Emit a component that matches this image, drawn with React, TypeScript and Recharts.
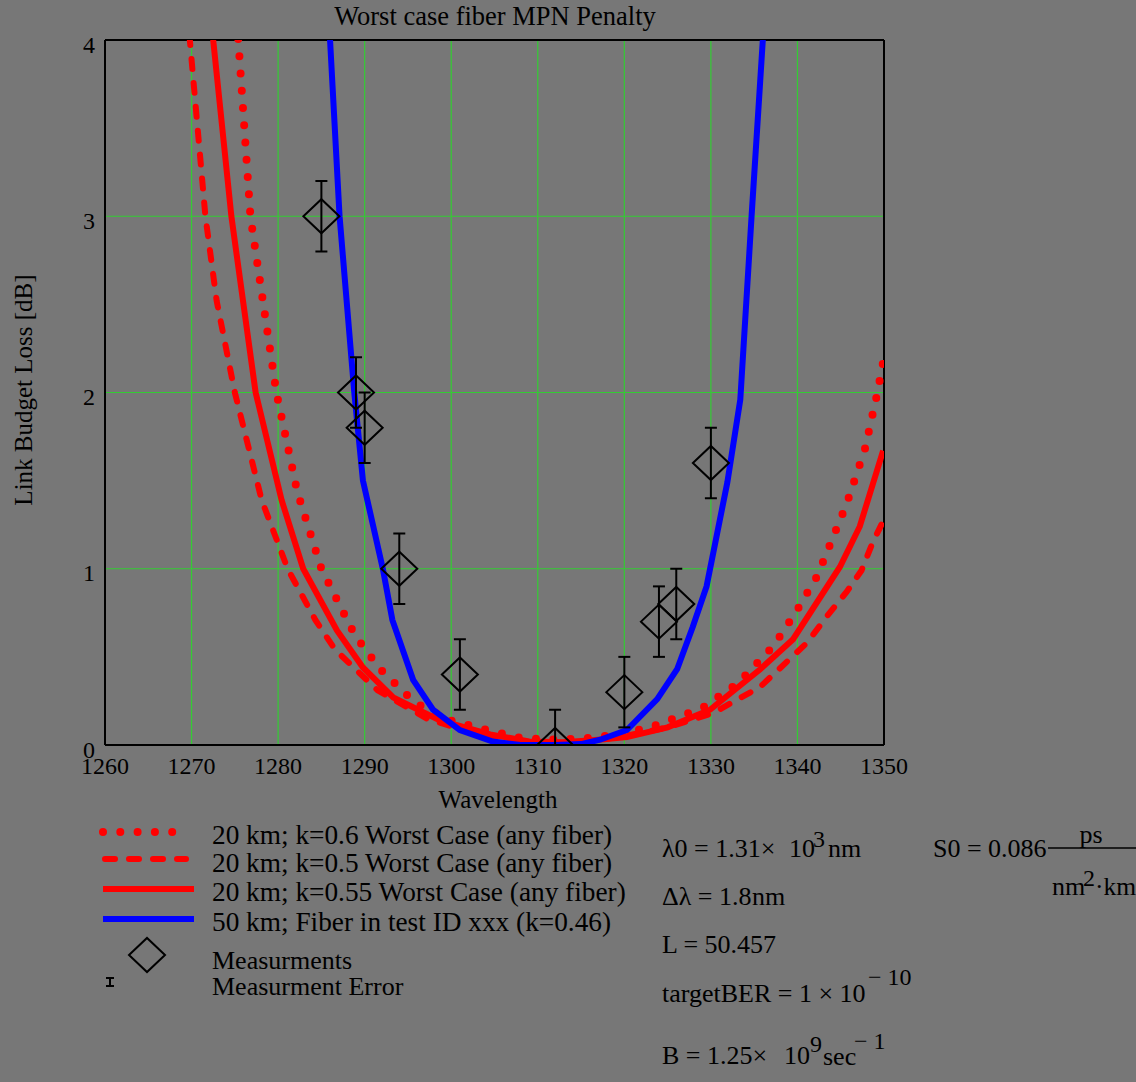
import React from 'react';
import { ComposedChart, Line, Scatter, XAxis, YAxis, CartesianGrid, ReferenceLine, ErrorBar } from 'recharts';

// wavelength [nm] / loss [dB]
const k06Wl = [1275.2, 1275.4, 1276.8, 1279.8, 1282.2, 1285.0, 1288.9, 1291.8, 1295.8, 1299.9, 1304.1, 1308, 1312, 1316, 1319, 1323, 1329, 1333.1, 1337.2, 1339.9, 1342.3, 1345.7, 1347.8, 1349.2, 1350];
const k06Loss = [4.3, 4.0, 3.0, 2.0, 1.44, 1.0, 0.62, 0.43, 0.24, 0.14, 0.085, 0.04, 0.03, 0.04, 0.06, 0.1, 0.21, 0.35, 0.56, 0.76, 0.96, 1.37, 1.68, 1.99, 2.2];

const k05Wl = [1269.5, 1269.8, 1271.6, 1272.9, 1275.0, 1278.1, 1281.1, 1284.3, 1286.6, 1291.5, 1297.2, 1303, 1308, 1312, 1316, 1320, 1325, 1330.2, 1335.7, 1341.1, 1343.4, 1345.7, 1347.4, 1348.7, 1350];
const k05Loss = [4.3, 4.0, 3.0, 2.52, 2.0, 1.39, 1.0, 0.71, 0.54, 0.31, 0.15, 0.06, 0.02, 0.01, 0.02, 0.05, 0.1, 0.18, 0.33, 0.58, 0.73, 0.87, 0.99, 1.15, 1.28];

const k055Wl = [1272.2, 1272.5, 1274.6, 1277.4, 1280.4, 1282.9, 1286.8, 1289.8, 1293.3, 1298.7, 1304.5, 1309, 1313, 1317, 1320.3, 1325, 1329.9, 1335.7, 1339.5, 1344.9, 1347.2, 1349.9];
const k055Loss = [4.3, 4.0, 3.0, 2.0, 1.39, 1.0, 0.65, 0.44, 0.27, 0.14, 0.06, 0.02, 0.015, 0.03, 0.045, 0.1, 0.2, 0.43, 0.6, 1.01, 1.24, 1.67];

const fiberWl = [1285.9, 1286.0, 1287.1, 1288.8, 1289.8, 1292.1, 1293.2, 1295.6, 1297.9, 1301.0, 1304.8, 1308, 1312, 1315, 1317.2, 1320.3, 1323.8, 1326.1, 1327.9, 1329.5, 1331.9, 1333.4, 1334.7, 1336.0, 1336.1];
const fiberLoss = [4.3, 4.0, 3.0, 2.0, 1.5, 1.0, 0.71, 0.37, 0.2, 0.085, 0.02, 0.0, 0.0, 0.005, 0.03, 0.085, 0.26, 0.43, 0.67, 0.9, 1.49, 1.96, 3.0, 4.0, 4.3];

const measWl = [1285, 1289, 1290, 1294, 1301, 1312, 1320, 1324, 1326, 1330];
const measLoss = [3.0, 2.0, 1.8, 1.0, 0.4, 0.0, 0.3, 0.7, 0.8, 1.6];
const measErr = [0.2, 0.2, 0.2, 0.2, 0.2, 0.2, 0.2, 0.2, 0.2, 0.2];

const xTicks = [1260, 1270, 1280, 1290, 1300, 1310, 1320, 1330, 1340, 1350];
const yTicks = [0, 1, 2, 3, 4];

const legendLabels = [
  '20 km; k=0.6 Worst Case  (any fiber)',
  '20 km; k=0.5 Worst Case  (any fiber)',
  '20 km; k=0.55 Worst Case  (any fiber)',
  '50 km; Fiber in test ID xxx (k=0.46)',
  'Measurments',
  'Measurment Error',
];

const toPts = (xs: number[], ys: number[]) => xs.map((x, i) => ({ x, y: ys[i] }));

const k06 = toPts(k06Wl, k06Loss);
const k05 = toPts(k05Wl, k05Loss);
const k055 = toPts(k055Wl, k055Loss);
const fiber = toPts(fiberWl, fiberLoss);
const meas = measWl.map((x, i) => ({ x, y: measLoss[i], err: measErr[i] }));

const FONT = "'Liberation Serif', 'Times New Roman', serif";
const BG = '#777777';
const GRID = '#33cc33';
const CLIP = 'url(#plotClip)';

const dotted = { stroke: '#ff0000', strokeWidth: 8, strokeDasharray: '0 17.3', strokeLinecap: 'round' as const };
const dashed = { stroke: '#ff0000', strokeWidth: 6, strokeDasharray: '10 14', strokeLinecap: 'round' as const };
const solid = { stroke: '#ff0000', strokeWidth: 6 };
const blue = { stroke: '#0000ff', strokeWidth: 6 };

const Diamond = (props: any) => {
  const { cx, cy, noClip } = props;
  if (cx == null || cy == null) return null;
  return (
    <path
      d={`M${cx - 18},${cy} L${cx},${cy - 17} L${cx + 18},${cy} L${cx},${cy + 17} Z`}
      fill="none"
      stroke="#000"
      strokeWidth={2}
      clipPath={noClip ? undefined : CLIP}
    />
  );
};

const pre = { whiteSpace: 'pre' as const };

function Overlay() {
  const tx = 212;
  return (
    <svg width={1136} height={1082} style={{ position: 'absolute', left: 0, top: 0, pointerEvents: 'none' }} fontFamily={FONT} fill="#000">
      <text x={495} y={25} fontSize={26.5} textAnchor="middle">Worst case fiber MPN Penalty</text>
      <text x={498} y={808} fontSize={25} textAnchor="middle">Wavelength</text>
      <text x={0} y={0} fontSize={25} textAnchor="middle" transform="translate(32,390) rotate(-90)">Link Budget Loss [dB]</text>

      {/* legend */}
      <line x1={103} x2={177} y1={832} y2={832} {...dotted} />
      <line x1={105} x2={186} y1={859} y2={859} {...dashed} />
      <line x1={103} x2={194} y1={889} y2={889} {...solid} />
      <line x1={103} x2={194} y1={919} y2={919} {...blue} />
      <Diamond cx={147} cy={955} noClip />
      <g stroke="#000" strokeWidth={2}>
        <line x1={110} x2={110} y1={978} y2={986} />
        <line x1={106} x2={114} y1={978} y2={978} />
        <line x1={106} x2={114} y1={986} y2={986} />
      </g>
      <g fontSize={27.3} style={pre}>
        <text x={tx} y={844}>{legendLabels[0]}</text>
        <text x={tx} y={872}>{legendLabels[1]}</text>
        <text x={tx} y={901}>{legendLabels[2]}</text>
        <text x={tx} y={931}>{legendLabels[3]}</text>
        <text x={tx} y={969} fontSize={26}>{legendLabels[4]}</text>
        <text x={tx} y={995} fontSize={26}>{legendLabels[5]}</text>
      </g>

      {/* constants */}
      <g fontSize={26} style={pre}>
        <text x={662} y={857}>λ0 = 1.31×</text>
        <text x={789} y={857}>10</text>
        <text x={813} y={847} fontSize={24}>3</text>
        <text x={828} y={857}>nm</text>

        <text x={662} y={905}>Δλ = 1.8</text>
        <text x={752} y={905}>nm</text>

        <text x={662} y={953}>L = 50.457</text>

        <text x={662} y={1002}>targetBER = 1 × 10</text>
        <text x={868} y={985} fontSize={24}>− 10</text>

        <text x={662} y={1064}>B = 1.25×</text>
        <text x={784} y={1064}>10</text>
        <text x={810} y={1052} fontSize={24}>9</text>
        <text x={823} y={1065}>sec</text>
        <text x={854} y={1049} fontSize={24}>− 1</text>

        <text x={933} y={857}>S0 = 0.086</text>
        <line x1={1048} x2={1136} y1={848} y2={848} stroke="#000" strokeWidth={1.5} />
        <text x={1091} y={843} textAnchor="middle">ps</text>
        <text x={1052} y={895}>nm</text>
        <text x={1083} y={886} fontSize={24}>2</text>
        <text x={1095} y={895} fontSize={25.5}>·km</text>
      </g>
    </svg>
  );
}

export default function App() {
  return (
    <div style={{ position: 'absolute', left: 0, top: 0, width: 1136, height: 1082, background: BG, overflow: 'hidden' }}>
      <svg width={0} height={0} style={{ position: 'absolute' }}>
        <defs>
          <clipPath id="plotClip">
            <rect x={105} y={40} width={779} height={705} />
          </clipPath>
        </defs>
      </svg>
      <ComposedChart width={1136} height={1082} margin={{ top: 40, right: 252, left: 0, bottom: 0 }}>
        <CartesianGrid stroke={GRID} strokeWidth={1.2} />
        <XAxis
          type="number"
          dataKey="x"
          domain={[1260, 1350]}
          ticks={xTicks}
          allowDataOverflow
          height={337}
          tickSize={0}
          tickMargin={12}
          axisLine={{ stroke: '#000', strokeWidth: 2 }}
          tick={{ fill: '#000', fontSize: 24, fontFamily: FONT }}
        />
        <YAxis
          type="number"
          dataKey="y"
          domain={[0, 4]}
          ticks={yTicks}
          allowDataOverflow
          width={105}
          tickSize={0}
          tickMargin={10}
          axisLine={{ stroke: '#000', strokeWidth: 2 }}
          tick={{ fill: '#000', fontSize: 24, fontFamily: FONT, dy: 4 }}
        />
        <ReferenceLine y={4} stroke="#000" strokeWidth={2} />
        <ReferenceLine x={1350} stroke="#000" strokeWidth={2} />
        <Line data={k06} dataKey="y" type="linear" dot={false} isAnimationActive={false} {...dotted} />
        <Line data={k05} dataKey="y" type="linear" dot={false} isAnimationActive={false} {...dashed} />
        <Line data={k055} dataKey="y" type="linear" dot={false} isAnimationActive={false} {...solid} />
        <Line data={fiber} dataKey="y" type="linear" dot={false} isAnimationActive={false} {...blue} />
        <Scatter data={meas} dataKey="y" shape={<Diamond />} isAnimationActive={false}>
          <ErrorBar dataKey="err" direction="y" width={6} stroke="#000" strokeWidth={2} clipPath={CLIP} />
        </Scatter>
      </ComposedChart>
      <Overlay />
    </div>
  );
}
